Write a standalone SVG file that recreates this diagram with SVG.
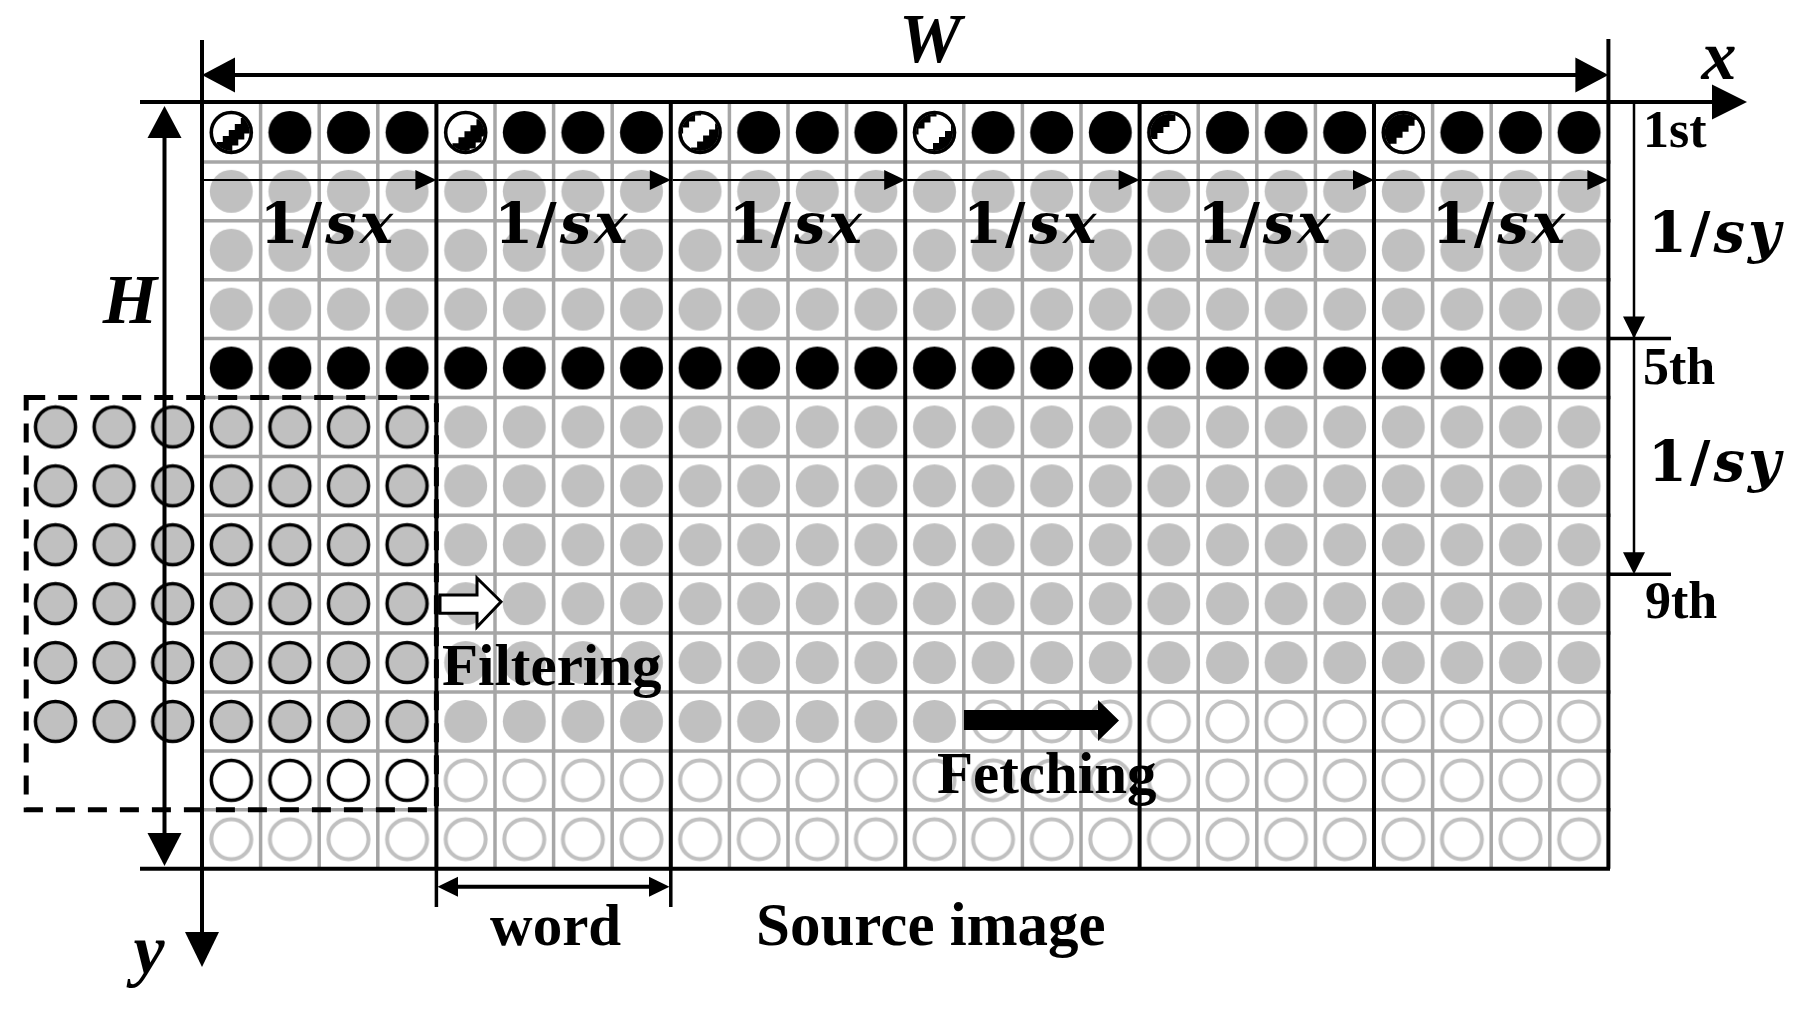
<svg xmlns="http://www.w3.org/2000/svg" xmlns:xlink="http://www.w3.org/1999/xlink" width="1801" height="1017" viewBox="0 0 1801 1017">
<style>
.gl{stroke:#a6a6a6;stroke-width:3.5;fill:none}
.kl{stroke:#000;stroke-width:4;fill:none}
.thin{stroke:#000;stroke-width:2.2;fill:none}
.ah{fill:#000;stroke:none}
.lbl{font-family:"Liberation Serif","Times New Roman",serif;font-weight:bold;fill:#000}
.var{font-family:"Liberation Serif","Times New Roman",serif;font-weight:bold;font-style:italic;fill:#000}
.math{font-family:"DejaVu Serif",serif;font-weight:bold;fill:#000;letter-spacing:3px}
.mi{font-style:italic}
</style>
<defs>
<pattern id="pGray" patternUnits="userSpaceOnUse" x="202" y="103" width="58.6" height="58.9"><circle cx="29.3" cy="29.45" r="21.5" fill="#c0c0c0"/></pattern>
<pattern id="pBlack" patternUnits="userSpaceOnUse" x="202" y="103" width="58.6" height="58.9"><circle cx="29.3" cy="29.45" r="21.5" fill="#000"/></pattern>
<pattern id="pOutGray" patternUnits="userSpaceOnUse" x="202" y="103" width="58.6" height="58.9"><circle cx="29.3" cy="29.45" r="20" fill="#c0c0c0" stroke="#000" stroke-width="3.5"/></pattern>
<pattern id="pOutWhite" patternUnits="userSpaceOnUse" x="202" y="103" width="58.6" height="58.9"><circle cx="29.3" cy="29.45" r="20" fill="#fff" stroke="#000" stroke-width="3.5"/></pattern>
<pattern id="pLight" patternUnits="userSpaceOnUse" x="202" y="103" width="58.6" height="58.9"><circle cx="29.3" cy="29.45" r="20" fill="#fff" stroke="#c0c0c0" stroke-width="4"/></pattern>
<clipPath id="ic"><circle r="18.5"/></clipPath>
<path id="lr" d="M-42,42 H-36 V36 H-30 V30 H-24 V24 H-18 V18 H-12 V12 H-6 V6 H0 V0 H6 V-6 H12 V-12 H18 V-18 H24 V-24 H30 V-30 H36 V-36 H42 V-42 L80,-80 L80,80 L-80,80 Z"/>
</defs>
<rect width="1801" height="1017" fill="#fff"/>

<g id="grid">
<path class="gl" d="M202,161.9H1611M202,220.8H1611M202,279.7H1611M202,338.6H1611M202,397.5H1611M202,456.4H1611M202,515.3H1611M202,574.2H1611M202,633.1H1611M202,692H1611M202,750.9H1611M202,809.8H1611"/>
<path class="gl" d="M260.6,103V868.7M319.2,103V868.7M377.8,103V868.7M495,103V868.7M553.6,103V868.7M612.2,103V868.7M729.4,103V868.7M788,103V868.7M846.6,103V868.7M963.8,103V868.7M1022.4,103V868.7M1081,103V868.7M1198.2,103V868.7M1256.8,103V868.7M1315.4,103V868.7M1432.6,103V868.7M1491.2,103V868.7M1549.8,103V868.7"/>
<path class="kl" d="M436.4,103V868.7M670.8,103V868.7M905.2,103V868.7M1139.6,103V868.7M1374,103V868.7"/>
</g>

<g id="pixels">
<rect x="202" y="103" width="1406.4" height="58.9" fill="url(#pBlack)"/>
<rect x="202" y="161.9" width="1406.4" height="176.7" fill="url(#pGray)"/>
<rect x="202" y="338.6" width="1406.4" height="58.9" fill="url(#pBlack)"/>
<rect x="436.4" y="397.5" width="1172" height="294.5" fill="url(#pGray)"/>
<rect x="26.2" y="397.5" width="410.2" height="353.4" fill="url(#pOutGray)"/>
<rect x="436.4" y="692" width="527.4" height="58.9" fill="url(#pGray)"/>
<rect x="963.8" y="692" width="644.6" height="58.9" fill="url(#pLight)"/>
<rect x="202" y="750.9" width="234.4" height="58.9" fill="url(#pOutWhite)"/>
<rect x="436.4" y="750.9" width="1172" height="58.9" fill="url(#pLight)"/>
<rect x="202" y="809.8" width="1406.4" height="58.9" fill="url(#pLight)"/>
</g>

<g id="samples">
<g transform="translate(231.3,132.45)"><circle r="21.8" fill="#fff"/><g clip-path="url(#ic)"><circle r="19" fill="#fff"/><use xlink:href="#lr" href="#lr" transform="translate(-2.5,-2.5)" fill="#000"/><use xlink:href="#lr" href="#lr" transform="translate(7,7)" fill="#fff"/></g><circle r="20" fill="none" stroke="#000" stroke-width="3.5"/></g>
<g transform="translate(465.7,132.45)"><circle r="21.8" fill="#fff"/><g clip-path="url(#ic)"><circle r="19" fill="#fff"/><use xlink:href="#lr" href="#lr" transform="translate(-1.25,-1.25)" fill="#000"/><use xlink:href="#lr" href="#lr" transform="translate(10,10)" fill="#fff"/></g><circle r="20" fill="none" stroke="#000" stroke-width="3.5"/></g>
<g transform="translate(700.1,132.45)"><circle r="21.8" fill="#fff"/><g clip-path="url(#ic)"><circle r="19" fill="#000"/><use xlink:href="#lr" href="#lr" transform="translate(-11,-11)" fill="#fff"/><use xlink:href="#lr" href="#lr" transform="translate(3,3)" fill="#000"/></g><circle r="20" fill="none" stroke="#000" stroke-width="3.5"/></g>
<g transform="translate(934.5,132.45)"><circle r="21.8" fill="#fff"/><g clip-path="url(#ic)"><circle r="19" fill="#000"/><use xlink:href="#lr" href="#lr" transform="translate(-10,-10)" fill="#fff"/><use xlink:href="#lr" href="#lr" transform="translate(4.5,4.5)" fill="#000"/></g><circle r="20" fill="none" stroke="#000" stroke-width="3.5"/></g>
<g transform="translate(1168.9,132.45)"><circle r="21.8" fill="#fff"/><g clip-path="url(#ic)"><circle r="19" fill="#000"/><use xlink:href="#lr" href="#lr" transform="translate(-5.5,-5.5)" fill="#fff"/></g><circle r="20" fill="none" stroke="#000" stroke-width="3.5"/></g>
<g transform="translate(1403.3,132.45)"><circle r="21.8" fill="#fff"/><g clip-path="url(#ic)"><circle r="19" fill="#000"/><use xlink:href="#lr" href="#lr" transform="translate(-0.75,-0.75)" fill="#fff"/></g><circle r="20" fill="none" stroke="#000" stroke-width="3.5"/></g>
</g>

<g id="filter-window">
<rect x="26.2" y="397.5" width="410.2" height="412.3" fill="none" stroke="#000" stroke-width="5" stroke-dasharray="19 13"/>
</g>

<g id="connectors">
<path class="kl" d="M202,40V932M1608.4,39V868.7M140,868.7H1610M140,102H1712"/>
<polygon class="ah" points="1747,102 1712,84.4 1712,119.6"/>
<polygon class="ah" points="202,967 185,932 219,932"/>
<path class="kl" d="M232,75H1578"/>
<polygon class="ah" points="202,75 235,57.5 235,92.5"/>
<polygon class="ah" points="1608.4,75 1575.4,57.5 1575.4,92.5"/>
<path class="kl" d="M164.5,136V836"/>
<polygon class="ah" points="164.5,106 147.5,138 181.5,138"/>
<polygon class="ah" points="164.5,866 147.5,833 181.5,833"/>
<path class="thin" d="M204,180H418M438.4,180H652.8M672.8,180H887.2M907.2,180H1121.6M1141.6,180H1356M1376,180H1590.4"/>
<polygon class="ah" points="436.4,180 415.4,170 415.4,190"/>
<polygon class="ah" points="670.8,180 649.8,170 649.8,190"/>
<polygon class="ah" points="905.2,180 884.2,170 884.2,190"/>
<polygon class="ah" points="1139.6,180 1118.6,170 1118.6,190"/>
<polygon class="ah" points="1374,180 1353,170 1353,190"/>
<polygon class="ah" points="1608.4,180 1587.4,170 1587.4,190"/>
<path d="M1634,104V560" stroke="#000" stroke-width="2.5" fill="none"/>
<polygon class="ah" points="1634,338.6 1623,316.6 1645,316.6"/>
<polygon class="ah" points="1634,574.2 1623,552.2 1645,552.2"/>
<path d="M1608,338.6H1671M1608,574.2H1671" stroke="#000" stroke-width="3.5" fill="none"/>
<path d="M436.4,868V907M670.8,868V907" stroke="#000" stroke-width="3.5" fill="none"/>
<path class="kl" d="M455,886.7H652"/>
<polygon class="ah" points="437.5,886.7 458,876.7 458,896.7"/>
<polygon class="ah" points="669.5,886.7 649,876.7 649,896.7"/>
<polygon points="440,595 477,595 477,578 501,601.7 477,627 477,613.3 440,613.3" fill="#fff" stroke="#000" stroke-width="3"/>
<polygon class="ah" points="964,710 1098,710 1098,700 1119,720.5 1098,741 1098,730 964,730"/>
</g>

<g id="labels">
<text class="var" x="930" y="62" font-size="70" text-anchor="middle">W</text>
<text class="var" x="1719" y="79" font-size="70" text-anchor="middle">x</text>
<text class="var" x="130" y="323" font-size="70" text-anchor="middle">H</text>
<text class="var" x="149" y="973" font-size="70" text-anchor="middle">y</text>
<text class="math" x="328" y="243" font-size="56" text-anchor="middle">1/<tspan class="mi">sx</tspan></text>
<text class="math" x="562.4" y="243" font-size="56" text-anchor="middle">1/<tspan class="mi">sx</tspan></text>
<text class="math" x="796.8" y="243" font-size="56" text-anchor="middle">1/<tspan class="mi">sx</tspan></text>
<text class="math" x="1031.2" y="243" font-size="56" text-anchor="middle">1/<tspan class="mi">sx</tspan></text>
<text class="math" x="1265.6" y="243" font-size="56" text-anchor="middle">1/<tspan class="mi">sx</tspan></text>
<text class="math" x="1500" y="243" font-size="56" text-anchor="middle">1/<tspan class="mi">sx</tspan></text>
<text class="math" x="1648" y="252" font-size="56">1/<tspan class="mi">sy</tspan></text>
<text class="math" x="1648" y="481" font-size="56">1/<tspan class="mi">sy</tspan></text>
<text class="lbl" x="1643" y="147" font-size="52">1st</text>
<text class="lbl" x="1643" y="384" font-size="52">5th</text>
<text class="lbl" x="1645" y="618" font-size="52">9th</text>
<text class="lbl" x="442" y="685" font-size="59">Filtering</text>
<text class="lbl" x="937" y="793" font-size="59">Fetching</text>
<text class="lbl" x="555.6" y="945" font-size="59" text-anchor="middle">word</text>
<text class="lbl" x="756" y="945" font-size="61">Source image</text>
</g>
</svg>
